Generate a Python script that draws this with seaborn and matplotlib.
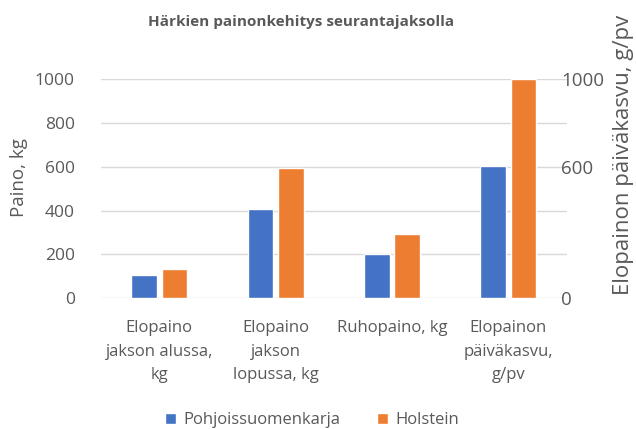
import matplotlib

matplotlib.use("Agg")
import matplotlib.pyplot as plt
import pandas as pd
import seaborn as sns

CATEGORIES = [
    "Elopaino\njakson alussa,\nkg",
    "Elopaino\njakson\nlopussa, kg",
    "Ruhopaino, kg",
    "Elopainon\npäiväkasvu,\ng/pv",
]
SERIES = ["Pohjoissuomenkarja", "Holstein"]
POHJOIS = [107, 406, 204, 605]
HOLSTEIN = [133, 595, 293, 1000]
LEFT_TICKS = [0, 200, 400, 600, 800, 1000]
RIGHT_TICKS = [0, 600, 1000]

BLUE = "#4472C4"
ORANGE = "#ED7D31"
GREY = "#595959"

sns.set_theme(style="white")
plt.rcParams["font.family"] = ["Open Sans", "DejaVu Sans"]

df = pd.DataFrame({
    "cat": CATEGORIES * 2,
    "series": [SERIES[0]] * 4 + [SERIES[1]] * 4,
    "value": POHJOIS + HOLSTEIN,
})

fig = plt.figure(figsize=(6.36, 4.29), dpi=100)
ax = fig.add_axes([0.159, 0.305, 0.732, 0.51])
sns.barplot(data=df, x="cat", y="value", hue="series", palette=[BLUE, ORANGE],
            width=0.52, gap=0.15, saturation=1, ax=ax, legend=True)

ax.set_ylim(0, 1000)
ax.set_yticks(LEFT_TICKS)
ax.set_xlim(-0.5, 3.5)
ax.yaxis.grid(True, color="#d9d9d9", linewidth=1)
ax.set_axisbelow(True)
for s in ax.spines.values():
    s.set_visible(False)
ax.tick_params(axis="y", labelsize=12.5, labelcolor=GREY, length=0, pad=19)
ax.tick_params(axis="x", labelsize=12, labelcolor=GREY, length=0, pad=16)
ax.set_xlabel("")
ax.set_ylabel("")
for lbl in ax.get_xticklabels():
    lbl.set_linespacing(1.62)
    lbl.set_verticalalignment("top")

ax2 = ax.twinx()
ax2.set_ylim(0, 1000)
ax2.set_yticks(RIGHT_TICKS)
for s in ax2.spines.values():
    s.set_visible(False)
ax2.tick_params(axis="y", labelsize=13.5, labelcolor=GREY, length=0, pad=-4)

fig.text(0.03, 0.585, "Paino, kg", rotation=90, fontsize=13.5, color=GREY,
         ha="center", va="center")
fig.text(0.98, 0.64, "Elopainon päiväkasvu, g/pv", rotation=90, fontsize=16,
         color=GREY, ha="center", va="center")

fig.text(0.473, 0.948, "Härkien painonkehitys seurantajaksolla", fontsize=11,
         fontweight="bold", color=GREY, ha="center", va="center")

handles, labels = ax.get_legend_handles_labels()
ax.legend_.remove()
fig.legend(handles, labels, loc="center", bbox_to_anchor=(0.49, 0.02), ncol=2,
           frameon=False, fontsize=12, handlelength=0.7, handleheight=0.7,
           handletextpad=0.4, columnspacing=2.2, labelcolor=GREY)

fig.savefig("out.png", dpi=100)
